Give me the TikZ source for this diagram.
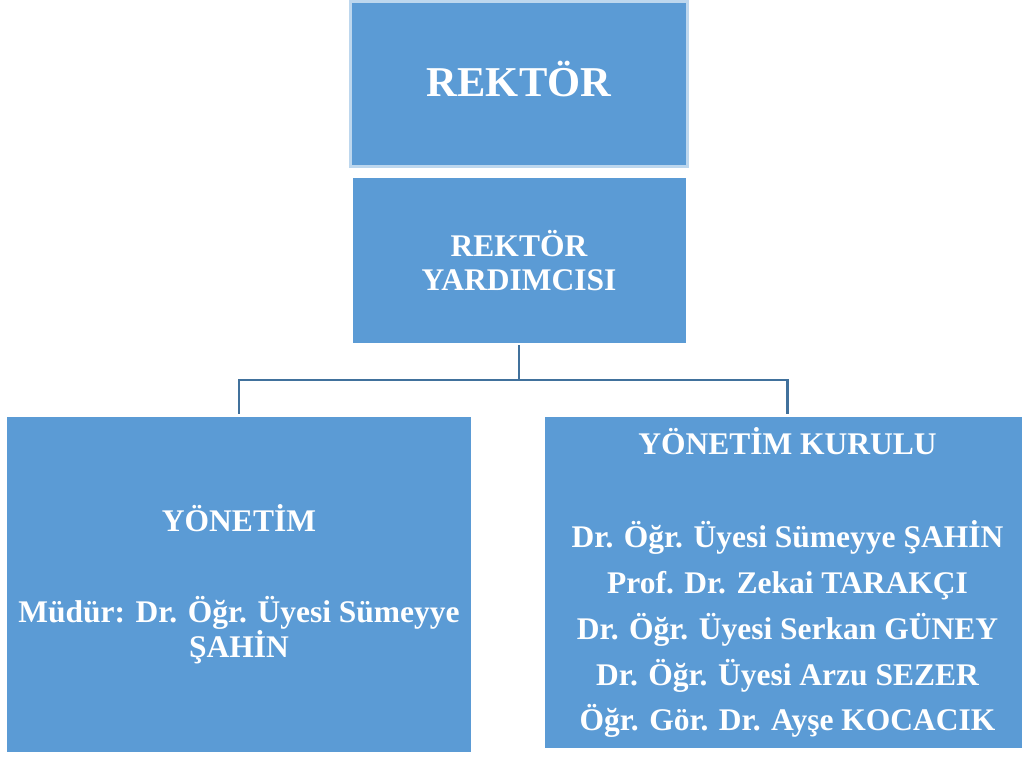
\documentclass[tikz,border=0pt]{standalone}
\usepackage{fontspec}
\setmainfont{Liberation Serif}
\usetikzlibrary{positioning}
\definecolor{boxblue}{HTML}{5B9BD5}
\definecolor{edgeblue}{HTML}{BDD7EE}
\definecolor{lineblue}{HTML}{41719C}

\begin{document}
\begin{tikzpicture}[x=1pt,y=-1pt,
    box/.style={fill=boxblue, text=white, inner sep=0pt, outer sep=0pt, align=center,
      font=\bfseries\fontsize{31.5}{34}\selectfont},
    link/.style={draw=lineblue, line width=2.7pt}]
    \useasboundingbox (0,0) rectangle (1022,756);
    \node[box, draw=edgeblue, line width=3pt, minimum width=337pt, minimum height=165pt, text depth=10pt,
      font=\bfseries\fontsize{42.5}{44}\selectfont] (rektor) at (519,84) {REKTÖR};
    \node[box, minimum width=333pt, minimum height=165pt, below=11.5pt of rektor] (yardimci) {REKTÖR\\YARDIMCISI};
    \node[box, minimum width=464pt, minimum height=335pt, font=\bfseries\fontsize{31.5}{33}\selectfont] (yonetim) at (239,584.5)
      {YÖNETİM\\[58pt]Müdür: Dr. Öğr. Üyesi Sümeyye\\ŞAHİN};
    \node[box, minimum width=485pt, minimum height=331pt, font=\bfseries\fontsize{31.5}{45.7}\selectfont] (kurul) at (787.5,582.5)
      {YÖNETİM KURULU\\[48pt]Dr. Öğr. Üyesi Sümeyye ŞAHİN\\Prof. Dr. Zekai TARAKÇI\\Dr. Öğr. Üyesi Serkan GÜNEY\\Dr. Öğr. Üyesi Arzu SEZER\\Öğr. Gör. Dr. Ayşe KOCACIK};
    % connectors
    \coordinate (split) at ([yshift=-37pt]yardimci.south);
    \draw[link, shorten <=2pt] (yardimci.south) -- (split);
    \draw[link, shorten >=3.5pt] (split) -| (yonetim.north);
    \draw[link, shorten >=3.5pt] (split) -| (kurul.north);
\end{tikzpicture}
\end{document}
